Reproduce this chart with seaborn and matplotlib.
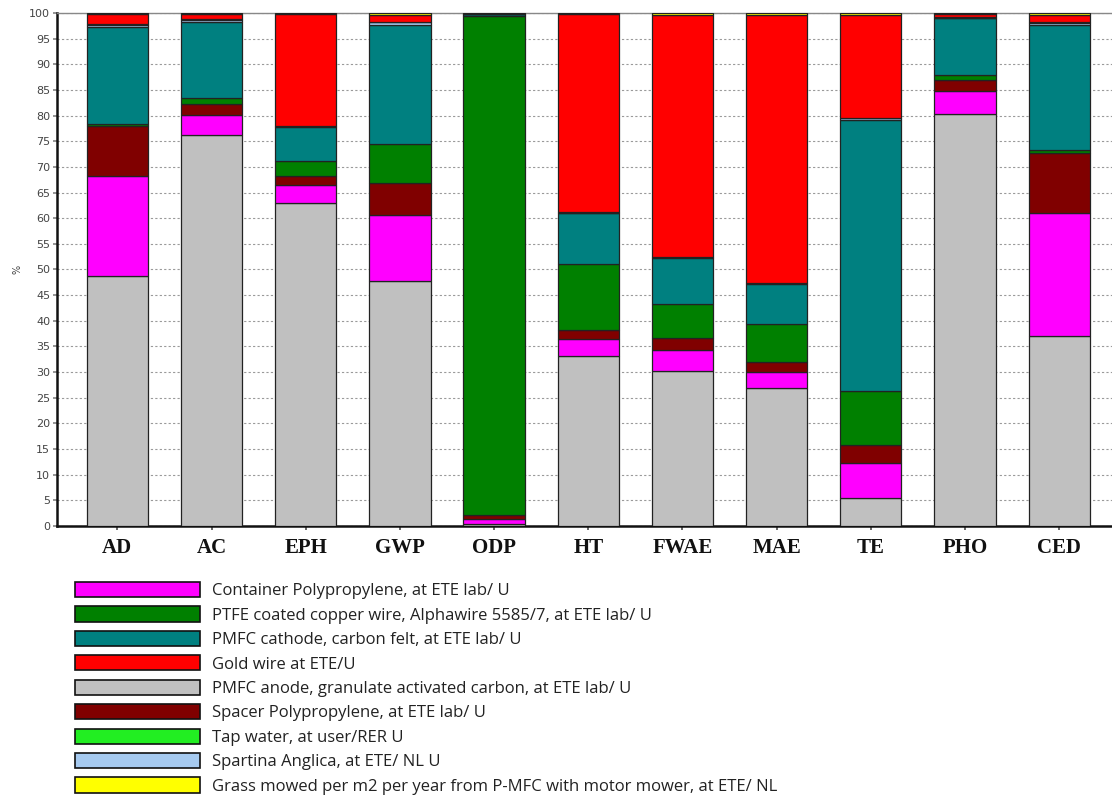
import numpy as np
import pandas as pd
import seaborn as sns
from matplotlib import pyplot as plt
from matplotlib.patches import Patch

categories = ["AD", "AC", "EPH", "GWP", "ODP", "HT", "FWAE", "MAE", "TE", "PHO", "CED"]

# stacked shares in %, bottom to top
anode = [48.8, 76.2, 63.0, 47.8, 0.3, 33.2, 30.3, 26.8, 5.5, 80.4, 37.0]
container = [19.5, 4.0, 3.4, 12.8, 1.0, 3.2, 4.1, 3.3, 6.8, 4.4, 24.0]
spacer = [9.7, 2.1, 1.8, 6.3, 0.9, 1.9, 2.2, 1.8, 3.4, 2.2, 11.7]
ptfe = [0.3, 1.1, 3.0, 7.6, 97.3, 12.7, 6.6, 7.4, 10.6, 1.0, 0.5]
cathode = [18.9, 14.9, 6.6, 23.2, 0.3, 10.0, 9.1, 7.9, 52.8, 11.0, 24.4]
spartina = [0.5, 0.3, 0.1, 0.5, 0.0, 0.1, 0.1, 0.1, 0.4, 0.1, 0.5]
tap_water = [0.1, 0.2, 0.1, 0.1, 0.0, 0.1, 0.1, 0.1, 0.1, 0.1, 0.1]
gold = [2.0, 1.0, 21.8, 1.4, 0.1, 38.6, 47.2, 52.3, 20.0, 0.6, 1.4]
grass = [0.2, 0.2, 0.2, 0.3, 0.1, 0.2, 0.3, 0.3, 0.4, 0.2, 0.4]

labels = {
    "container": "Container Polypropylene, at ETE lab/ U",
    "ptfe": "PTFE coated copper wire, Alphawire 5585/7, at ETE lab/ U",
    "cathode": "PMFC cathode, carbon felt, at ETE lab/ U",
    "gold": "Gold wire at ETE/U",
    "anode": "PMFC anode, granulate activated carbon, at ETE lab/ U",
    "spacer": "Spacer Polypropylene, at ETE lab/ U",
    "tap_water": "Tap water, at user/RER U",
    "spartina": "Spartina Anglica, at ETE/ NL U",
    "grass": "Grass mowed per m2 per year from P-MFC with motor mower, at ETE/ NL",
}
colors = {
    "container": "#FF00FF",
    "ptfe": "#008000",
    "cathode": "#008080",
    "gold": "#FF0000",
    "anode": "#C0C0C0",
    "spacer": "#800000",
    "tap_water": "#22EE22",
    "spartina": "#A6CAF0",
    "grass": "#FFFF00",
}

stack = {
    "anode": anode,
    "container": container,
    "spacer": spacer,
    "ptfe": ptfe,
    "cathode": cathode,
    "spartina": spartina,
    "tap_water": tap_water,
    "gold": gold,
    "grass": grass,
}
legend_order = ["container", "ptfe", "cathode", "gold", "anode",
                "spacer", "tap_water", "spartina", "grass"]

sns.set_theme(style="white")
fig = plt.figure(figsize=(11.12, 7.98), dpi=100)
ax = fig.add_axes([0.0513, 0.3409, 0.9487, 0.6428])

bottom = np.zeros(len(categories))
for key, vals in stack.items():
    vals = np.array(vals)
    sns.barplot(x=categories, y=vals, bottom=bottom, color=colors[key],
                saturation=1, width=0.65, edgecolor="#222222", linewidth=0.9,
                ax=ax, zorder=3)
    bottom += vals

ax.set_ylim(0, 100)
ax.set_xlim(-0.64, 10.56)
ax.set_yticks(range(0, 101, 5))
ax.yaxis.grid(True, linestyle=(0, (2, 2)), color="#9a9a9a", linewidth=0.8, zorder=0)
ax.set_axisbelow(True)
ax.tick_params(axis="y", labelsize=8, labelcolor="#444444", length=3,
               left=True, color="#888888", pad=2)
ax.tick_params(axis="x", length=3, bottom=True, color="#555555", pad=6)
for lab in ax.get_xticklabels():
    lab.set_fontfamily("Liberation Serif")
    lab.set_fontweight("bold")
    lab.set_fontsize(15)
    lab.set_color("#111111")
ax.set_ylabel("%", fontsize=7, color="#444444", labelpad=5)
for side in ["left", "bottom"]:
    ax.spines[side].set_color("#111111")
    ax.spines[side].set_linewidth(1.8)
ax.spines["top"].set_color("#888888")
ax.spines["top"].set_linewidth(1.0)
ax.spines["right"].set_visible(False)

handles = [Patch(facecolor=colors[k], edgecolor="#111111", linewidth=1.2)
           for k in legend_order]
leg = fig.legend(handles, [labels[k] for k in legend_order], loc="upper left",
                 bbox_to_anchor=(75 / 1112, 1 - 582 / 798), frameon=False,
                 prop={"family": "Open Sans", "size": 12}, handlelength=7.5,
                 handleheight=1.02, labelspacing=0.43, handletextpad=0.75,
                 borderpad=0, borderaxespad=0)
for t in leg.get_texts():
    t.set_color("#222222")

fig.savefig("out.png", dpi=100)
